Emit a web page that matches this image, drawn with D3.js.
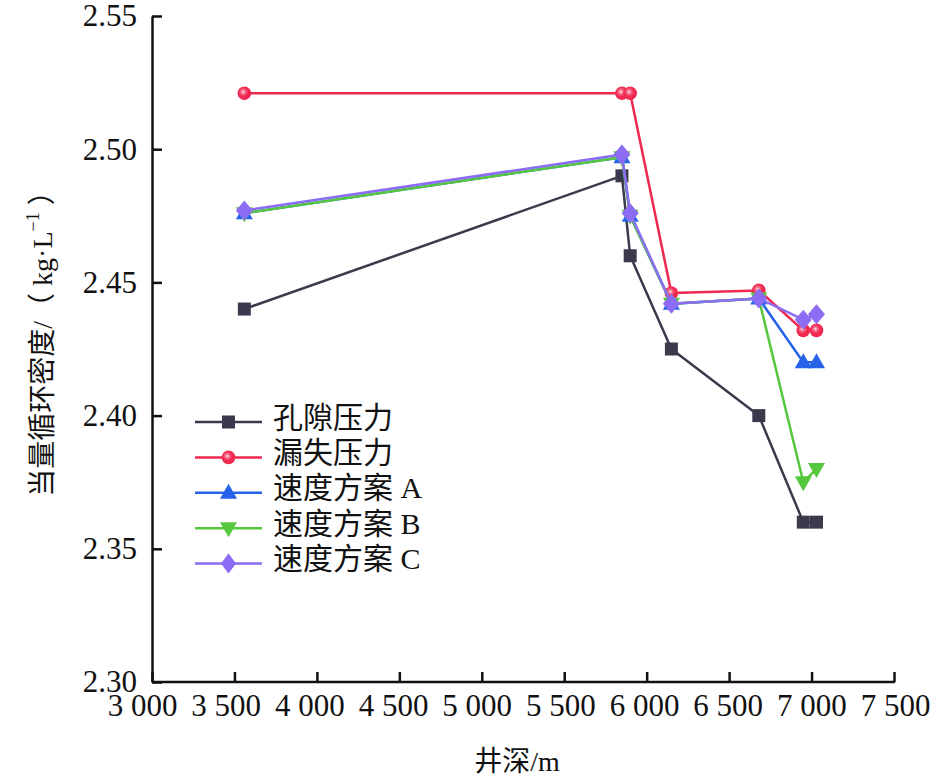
<!DOCTYPE html>
<html>
<head>
<meta charset="utf-8">
<script src="https://cdn.jsdelivr.net/npm/d3@7/dist/d3.min.js"></script>
<style>
  html, body { margin: 0; padding: 0; background: #fff; }
  svg { display: block; }
  text { font-family: "Liberation Serif", "Noto Sans CJK SC", serif; fill: #111; }
</style>
</head>
<body>
<div id="chart"></div>
<script>
// 井深 (m)
const depths = [3560, 5850, 5900, 6150, 6680, 6950, 7030];

// 当量循环密度 (kg/L)
const porePressure = [2.440, 2.490, 2.460, 2.425, 2.400, 2.360, 2.360];
const lossPressure = [2.521, 2.521, 2.521, 2.446, 2.447, 2.432, 2.432];
const planA = [2.476, 2.497, 2.475, 2.442, 2.444, 2.420, 2.420];
const planB = [2.476, 2.497, 2.475, 2.442, 2.444, 2.375, 2.380];
const planC = [2.477, 2.498, 2.476, 2.442, 2.444, 2.436, 2.438];

const seriesNames = ["孔隙压力", "漏失压力", "速度方案 A", "速度方案 B", "速度方案 C"];
const seriesValues = [porePressure, lossPressure, planA, planB, planC];
const seriesColors = ["#3b3a4d", "#f0284f", "#2663e8", "#56c83d", "#8b6cf2"];
const seriesMarkers = ["square", "circle", "up", "down", "diamond"];

const xTicks = [3000, 3500, 4000, 4500, 5000, 5500, 6000, 6500, 7000, 7500];
const yTicks = [2.30, 2.35, 2.40, 2.45, 2.50, 2.55];

const width = 945, height = 783;
const svg = d3.select("#chart").append("svg")
    .attr("width", width)
    .attr("height", height);

const x = d3.scaleLinear().domain([3000, 7500]).range([152, 894]);
const y = d3.scaleLinear().domain([2.30, 2.55]).range([682, 16]);
// 原图刻度文字略微偏左（越靠左偏得越多）
const xLabel = d3.scaleLinear().domain([3000, 7500]).range([142, 895]);

// 高光圆点
const defs = svg.append("defs");
const grad = defs.append("radialGradient")
    .attr("id", "redBall")
    .attr("cx", "0.42").attr("cy", "0.4").attr("r", "0.6");
grad.append("stop").attr("offset", "0").attr("stop-color", "#ffe0e8");
grad.append("stop").attr("offset", "0.3").attr("stop-color", "#f5607f");
grad.append("stop").attr("offset", "0.6").attr("stop-color", "#f0284f");

// 坐标轴
const fmtX = d3.formatLocale({ decimal: ".", thousands: " ", grouping: [3], currency: ["", ""] }).format(",d");

const xAxis = svg.append("g")
    .attr("transform", `translate(0,${y(2.30)})`)
    .call(d3.axisBottom(x).tickValues(xTicks).tickFormat(fmtX)
        .tickSizeInner(-10).tickSizeOuter(0).tickPadding(12));

const yAxis = svg.append("g")
    .attr("transform", `translate(${x(3000)},0)`)
    .call(d3.axisLeft(y).tickValues(yTicks).tickFormat(d3.format(".2f"))
        .tickSizeInner(-10).tickSizeOuter(0).tickPadding(15));

[xAxis, yAxis].forEach(g => {
    g.select(".domain").attr("stroke", "#111").attr("stroke-width", 2.5);
    g.selectAll(".tick line").attr("stroke", "#111").attr("stroke-width", 2.5);
    g.selectAll(".tick text")
        .attr("font-size", 31)
        .attr("fill", "#111")
        .style("font-family", "'Liberation Serif', serif");
});
xAxis.selectAll(".tick text").attr("dx", d => xLabel(d) - x(d));
// 7500 处的刻度要落在轴线末端
xAxis.select(".domain").attr("d", `M${x(3000)},0H${x(7500) + 1}`);

// 轴标题
svg.append("text")
    .attr("x", 517)
    .attr("y", 771)
    .attr("text-anchor", "middle")
    .attr("font-size", 28)
    .text("井深/m");

const yTitle = svg.append("text")
    .attr("transform", "translate(42,337) rotate(-90)")
    .attr("text-anchor", "middle")
    .attr("dominant-baseline", "central")
    .attr("font-size", 28)
    .style("white-space", "pre");
yTitle.append("tspan").text("当量循环密度/（ kg·L");
yTitle.append("tspan").attr("font-size", 18).attr("dy", -9).text("−1");
yTitle.append("tspan").attr("dy", 9).text(" ）");

// 标记形状
function drawMarker(g, type, color, cx, cy, legend) {
    if (type === "square") {
        g.append("rect")
            .attr("x", cx - 6.5).attr("y", cy - 6.5)
            .attr("width", 13).attr("height", 13)
            .attr("fill", color);
    } else if (type === "circle") {
        g.append("circle")
            .attr("cx", cx).attr("cy", cy).attr("r", 6.8)
            .attr("fill", "url(#redBall)");
    } else if (type === "up") {
        g.append("path")
            .attr("d", `M${cx},${cy - 9}L${cx + 8.5},${cy + 6}L${cx - 8.5},${cy + 6}Z`)
            .attr("fill", color);
    } else if (type === "down") {
        g.append("path")
            .attr("d", `M${cx},${cy + 9}L${cx + 8.5},${cy - 6}L${cx - 8.5},${cy - 6}Z`)
            .attr("fill", color);
    } else if (type === "diamond") {
        const hw = legend ? 7.5 : 8.5, hh = 10;
        g.append("path")
            .attr("d", `M${cx},${cy - hh}L${cx + hw},${cy}L${cx},${cy + hh}L${cx - hw},${cy}Z`)
            .attr("fill", color);
    }
}

// 折线
const line = d3.line()
    .x((d, i) => x(depths[i]))
    .y(d => y(d));

seriesValues.forEach((vals, s) => {
    const g = svg.append("g").attr("class", "series");
    g.append("path")
        .datum(vals)
        .attr("d", line)
        .attr("fill", "none")
        .attr("stroke", seriesColors[s])
        .attr("stroke-width", 2.5)
        .attr("stroke-linejoin", "round");
    vals.forEach((v, i) => drawMarker(g, seriesMarkers[s], seriesColors[s], x(depths[i]), y(v), false));
});

// 图例
const legend = svg.append("g");
seriesNames.forEach((name, i) => {
    const ry = 422 + i * 35.4;
    legend.append("line")
        .attr("x1", 195).attr("x2", 262)
        .attr("y1", ry).attr("y2", ry)
        .attr("stroke", seriesColors[i])
        .attr("stroke-width", 2.5);
    drawMarker(legend, seriesMarkers[i], seriesColors[i], 228.5, ry, true);
    legend.append("text")
        .attr("x", 273)
        .attr("y", ry - 5)
        .attr("dominant-baseline", "central")
        .attr("font-size", 30)
        .text(name);
});
</script>
</body>
</html>
